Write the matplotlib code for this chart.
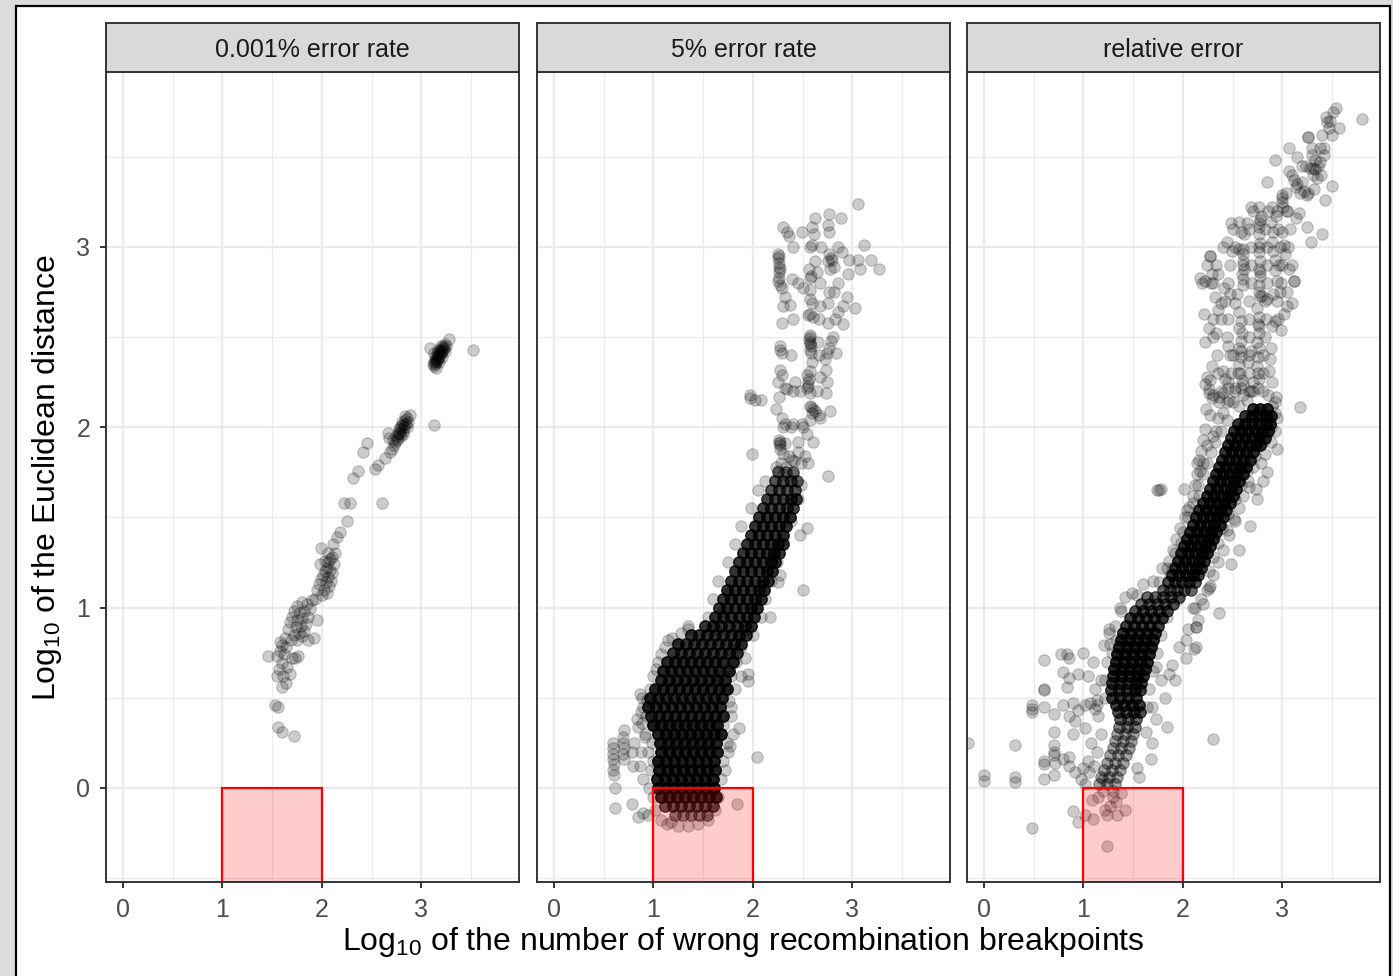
import numpy as np
import matplotlib.pyplot as plt
from matplotlib.patches import Rectangle

plt.rcParams['font.family'] = ['Liberation Sans', 'DejaVu Sans']
plt.rcParams['mathtext.fontset'] = 'custom'
plt.rcParams['mathtext.rm'] = 'Liberation Sans'

TITLES = ["0.001% error rate", "5% error rate", "relative error"]
X_TICKS = [0, 1, 2, 3]
Y_TICKS = [0, 1, 2, 3]
X_MINOR = [0.5, 1.5, 2.5, 3.5]
Y_MINOR = [-0.5, 0.5, 1.5, 2.5, 3.5]

# (x, y) single observations, log10 scale
P1_POINTS = [
    (3.12, 2.35), (3.13, 2.36), (3.13, 2.34), (3.14, 2.37), (3.14, 2.35), (3.15, 2.38),
    (3.15, 2.36), (3.16, 2.39), (3.16, 2.37), (3.17, 2.40), (3.17, 2.38), (3.18, 2.41),
    (3.18, 2.39), (3.19, 2.42), (3.19, 2.40), (3.20, 2.43), (3.20, 2.41), (3.21, 2.44),
    (3.21, 2.42), (3.22, 2.45), (3.22, 2.43), (3.23, 2.44), (3.24, 2.46), (3.25, 2.45),
    (3.14, 2.39), (3.17, 2.43), (3.20, 2.45), (3.15, 2.33), (3.18, 2.36), (3.21, 2.39),
    (3.09, 2.44), (3.28, 2.49), (3.52, 2.43), (3.13, 2.41), (3.24, 2.42), (3.16, 2.41),
    (2.88, 2.07), (2.85, 2.05), (2.83, 2.04), (2.82, 2.02), (2.80, 2.01), (2.79, 1.99),
    (2.81, 1.98), (2.78, 1.97), (2.77, 1.96), (2.76, 1.94), (2.75, 1.93), (2.84, 2.02),
    (2.82, 2.00), (2.80, 2.03), (2.78, 2.00), (2.76, 1.97), (2.74, 1.95), (2.73, 1.92),
    (2.72, 1.90), (2.70, 1.88), (2.68, 1.86), (2.66, 1.97), (2.67, 1.94), (2.79, 1.95),
    (2.83, 2.06), (2.86, 2.03), (2.81, 1.96), (2.77, 1.99), (2.85, 2.00), (2.71, 1.93),
    (3.13, 2.01), (2.63, 1.83), (2.56, 1.79), (2.53, 1.77), (2.45, 1.91), (2.41, 1.86),
    (2.36, 1.76), (2.31, 1.72), (2.22, 1.58), (2.28, 1.58), (2.60, 1.58), (2.25, 1.48),
    (2.18, 1.42), (2.15, 1.39), (2.11, 1.35), (1.99, 1.33),
    (2.13, 1.30), (2.10, 1.28), (2.08, 1.27), (2.06, 1.25), (2.12, 1.24), (2.05, 1.22),
    (2.08, 1.21), (2.03, 1.20), (2.10, 1.19), (2.01, 1.18), (2.06, 1.17), (1.99, 1.16),
    (2.04, 1.14), (2.07, 1.12), (1.97, 1.13), (2.02, 1.10), (2.05, 1.08), (1.95, 1.10),
    (2.00, 1.07), (1.93, 1.05), (2.09, 1.15), (1.98, 1.24), (2.03, 1.26), (2.06, 1.30),
    (1.90, 1.04), (1.85, 1.02), (1.80, 1.03), (1.75, 1.01), (1.88, 0.99), (1.82, 0.98),
    (1.77, 0.97), (1.72, 0.98), (1.86, 0.95), (1.80, 0.94), (1.75, 0.93), (1.70, 0.95),
    (1.84, 0.91), (1.79, 0.90), (1.74, 0.89), (1.68, 0.92), (1.82, 0.87), (1.77, 0.86),
    (1.72, 0.85), (1.66, 0.88), (1.80, 0.84), (1.75, 0.82), (1.69, 0.82), (1.63, 0.83),
    (1.60, 0.79), (1.64, 0.78), (1.58, 0.76), (1.86, 0.82), (1.92, 0.83), (1.55, 0.73),
    (1.62, 0.74), (1.70, 0.72), (1.73, 0.72), (1.76, 0.73), (1.60, 0.69), (1.65, 0.67),
    (1.57, 0.66), (1.68, 0.63), (1.61, 0.62), (1.55, 0.62), (1.64, 0.58), (1.60, 0.56),
    (1.46, 0.73), (1.58, 0.81), (1.95, 0.93),
    (1.53, 0.46), (1.56, 0.45), (1.56, 0.34), (1.60, 0.31), (1.72, 0.29),
]

P2_POINTS = [
    (3.06, 3.24), (2.62, 3.16), (2.76, 3.18), (2.88, 3.16), (2.30, 3.11), (2.34, 3.08),
    (2.36, 3.06), (2.49, 3.08), (2.59, 3.11), (2.61, 3.07), (2.75, 3.12), (2.76, 3.08),
    (2.57, 3.00), (2.59, 3.01), (3.12, 3.01),
    (2.25, 2.96), (2.25, 2.94), (2.26, 2.91), (2.27, 2.88), (2.26, 2.86), (2.26, 2.83),
    (2.25, 2.81), (2.29, 2.77), (2.27, 2.79), (2.26, 2.95), (2.26, 2.89),
    (2.39, 2.82), (2.50, 2.77), (2.56, 2.88), (2.57, 2.83), (2.58, 2.84), (2.62, 2.92),
    (2.64, 2.86), (2.76, 2.96), (2.78, 2.94), (2.75, 2.92), (2.81, 2.89), (2.77, 2.88),
    (2.79, 2.93), (2.89, 2.97), (2.97, 2.93), (3.06, 2.93), (3.19, 2.93), (3.08, 2.88),
    (3.27, 2.88), (2.96, 2.85),
    (2.57, 2.76), (2.76, 2.75), (2.81, 2.75), (2.32, 2.72), (2.30, 2.67), (2.37, 2.68),
    (2.57, 2.71), (2.59, 2.69), (2.67, 2.67), (2.75, 2.69), (2.94, 2.72), (2.90, 2.67),
    (3.03, 2.66), (2.85, 2.64), (2.55, 2.62), (2.60, 2.61), (2.57, 2.63), (2.29, 2.58),
    (2.75, 2.58), (2.90, 2.57),
    (2.57, 2.51), (2.56, 2.49), (2.57, 2.47), (2.58, 2.45), (2.57, 2.43), (2.58, 2.41),
    (2.57, 2.50), (2.57, 2.46), (2.27, 2.45), (2.29, 2.41), (2.27, 2.43), (2.65, 2.47),
    (2.80, 2.50), (2.78, 2.48), (2.74, 2.41), (2.72, 2.38), (2.83, 2.41), (2.76, 2.44),
    (2.59, 2.36), (2.57, 2.31), (2.27, 2.32), (2.29, 2.29), (2.25, 2.25), (2.73, 2.32),
    (2.67, 2.28), (2.74, 2.25), (2.42, 2.25), (2.55, 2.25), (2.54, 2.22), (2.57, 2.19),
    (2.32, 2.22), (2.34, 2.21), (2.26, 2.17), (2.47, 2.20), (2.73, 2.19), (2.56, 2.27),
    (2.54, 2.29), (2.55, 2.23),
    (1.97, 2.18), (1.97, 2.16), (2.02, 2.15), (2.08, 2.15),
    (2.57, 2.12), (2.60, 2.10), (2.66, 2.07), (2.77, 2.09), (2.67, 2.05), (2.57, 2.04),
    (2.59, 2.08), (2.62, 2.09), (2.58, 2.11),
    (2.23, 2.10), (2.29, 2.05), (2.32, 2.02), (2.30, 2.00), (2.40, 2.02), (2.49, 2.02),
    (2.26, 1.93), (2.27, 1.90), (2.27, 1.88), (2.32, 1.91), (2.26, 1.91), (2.45, 1.92),
    (2.54, 1.96), (2.60, 1.92), (1.99, 1.85), (2.27, 1.92),
    (2.45, 1.86), (2.52, 1.84), (2.41, 1.81), (2.48, 1.80), (2.55, 1.80), (2.39, 1.82),
    (2.75, 1.73), (2.23, 1.78), (2.25, 1.76), (2.30, 1.74), (2.22, 1.71), (2.29, 1.69),
    (2.37, 1.71), (2.40, 1.74), (2.28, 1.80), (2.33, 1.78), (2.36, 1.84), (2.30, 1.85),
    (2.50, 1.10), (2.54, 1.44), (2.47, 1.40), (2.27, 1.18), (2.25, 1.14), (2.17, 0.95),
    (1.95, 0.63), (1.95, 0.59), (1.86, 0.33), (1.77, 0.23), (2.04, 0.17), (1.84, -0.09),
    (0.59, 0.25), (0.59, 0.22), (0.59, 0.19), (0.59, 0.16), (0.60, 0.13), (0.59, 0.10),
    (0.60, 0.07), (0.69, 0.28), (0.69, 0.25), (0.70, 0.22), (0.69, 0.19), (0.70, 0.16),
    (0.70, 0.32), (0.61, 0.00), (0.61, -0.11), (0.78, -0.09), (0.90, -0.14), (0.84, -0.16),
    (0.95, -0.15), (0.79, 0.12), (0.78, 0.20), (0.80, 0.25),
    (1.19, 0.83), (1.24, 0.80), (1.35, 0.90), (1.35, 0.88), (0.89, 0.50), (0.94, 0.49),
    (0.83, 0.38), (0.84, 0.34), (0.89, 0.36), (0.86, 0.52), (0.88, 0.42), (0.92, 0.28),
    (0.90, 0.45), (0.92, 0.30), (0.95, 0.20), (0.98, 0.10), (0.96, 0.00), (1.00, -0.05),
    (0.88, 0.20), (0.90, 0.05), (0.86, 0.12), (1.02, -0.12), (1.08, -0.18), (1.14, -0.20),
    (1.75, 0.20), (1.72, 0.10), (1.70, 0.35), (1.78, 0.45), (1.82, 0.55), (1.88, 0.62),
    (1.92, 0.72), (2.00, 0.85), (2.08, 0.95), (2.12, 1.05), (2.18, 1.15), (2.24, 1.25),
    (2.30, 1.38), (2.38, 1.48), (2.45, 1.60), (2.48, 1.68), (1.55, 0.95), (1.60, 1.05),
    (1.65, 1.15), (1.75, 1.25), (1.82, 1.35), (1.88, 1.45), (1.98, 1.55), (2.05, 1.65),
    (2.12, 1.70), (1.12, 0.78), (1.05, 0.70), (1.00, 0.62), (1.78, 0.40), (1.80, 0.30),
    (1.76, 0.48), (1.74, 0.25), (1.70, 0.15), (1.68, 0.05), (1.65, -0.05), (1.72, 0.55),
    (1.78, 0.62), (1.83, 0.70), (1.88, 0.78), (1.95, 0.88), (2.02, 1.00), (2.10, 1.10),
    (1.62, -0.12), (1.55, -0.18), (1.45, -0.20), (1.35, -0.21), (1.25, -0.21), (1.18, -0.19),
    (0.93, 0.40), (0.97, 0.55), (1.03, 0.66), (1.08, 0.74), (1.15, 0.82), (1.28, 0.86),
    (0.99, 0.25), (1.00, 0.15), (1.01, 0.35), (1.66, 0.62), (1.74, 0.66), (1.79, 0.76),
    (1.86, 0.84), (1.62, 0.88), (1.70, 0.98), (1.76, 1.08), (2.15, 1.20), (2.20, 1.30),
]

# (y, count, [x ...]) rows through the dense parts
P2_BAND = [
    (3.00, 1, [2.40, 2.68, 2.85]),
    (2.80, 1, [2.45, 2.67, 2.85]),
    (2.60, 1, [2.40, 2.66, 2.82]),
    (2.40, 1, [2.38, 2.66]),
    (2.20, 1, [2.40, 2.64]),
    (2.00, 1, [2.38, 2.50]),
    (-0.15, 3, [1.22, 1.30, 1.38, 1.46, 1.54]),
    (-0.10, 5, [1.12, 1.20, 1.28, 1.36, 1.44, 1.52, 1.60]),
    (-0.05, 8, [1.08, 1.16, 1.24, 1.32, 1.40, 1.48, 1.56, 1.63]),
    (0.00, 9, [1.05, 1.13, 1.21, 1.29, 1.37, 1.45, 1.53, 1.61]),
    (0.05, 9, [1.04, 1.12, 1.20, 1.28, 1.36, 1.44, 1.52, 1.60]),
    (0.10, 9, [1.06, 1.14, 1.22, 1.30, 1.38, 1.46, 1.54, 1.62]),
    (0.15, 9, [1.05, 1.13, 1.21, 1.29, 1.37, 1.45, 1.53, 1.61]),
    (0.20, 9, [1.08, 1.16, 1.24, 1.32, 1.40, 1.48, 1.56, 1.64]),
    (0.25, 9, [1.07, 1.15, 1.23, 1.31, 1.39, 1.47, 1.55, 1.63]),
    (0.30, 9, [1.05, 1.13, 1.21, 1.29, 1.37, 1.45, 1.53, 1.61, 1.68]),
    (0.35, 9, [1.00, 1.08, 1.16, 1.24, 1.32, 1.40, 1.48, 1.56, 1.64]),
    (0.40, 8, [0.98, 1.06, 1.14, 1.22, 1.30, 1.38, 1.46, 1.54, 1.62, 1.70]),
    (0.45, 8, [0.95, 1.03, 1.11, 1.19, 1.27, 1.35, 1.43, 1.51, 1.59, 1.67]),
    (0.50, 8, [0.97, 1.05, 1.13, 1.21, 1.29, 1.37, 1.45, 1.53, 1.61, 1.69]),
    (0.55, 8, [1.02, 1.10, 1.18, 1.26, 1.34, 1.42, 1.50, 1.58, 1.66, 1.74]),
    (0.60, 8, [1.08, 1.16, 1.24, 1.32, 1.40, 1.48, 1.56, 1.64, 1.72]),
    (0.65, 8, [1.10, 1.18, 1.26, 1.34, 1.42, 1.50, 1.58, 1.66, 1.76]),
    (0.70, 8, [1.14, 1.22, 1.30, 1.38, 1.46, 1.54, 1.62, 1.70, 1.80]),
    (0.75, 7, [1.20, 1.28, 1.36, 1.44, 1.52, 1.60, 1.68, 1.76, 1.84]),
    (0.80, 7, [1.25, 1.33, 1.41, 1.49, 1.57, 1.65, 1.73, 1.81, 1.88]),
    (0.85, 7, [1.38, 1.46, 1.54, 1.62, 1.70, 1.78, 1.86, 1.93]),
    (0.90, 7, [1.52, 1.60, 1.68, 1.76, 1.84, 1.92, 1.98]),
    (0.95, 7, [1.62, 1.70, 1.78, 1.86, 1.94, 2.01]),
    (1.00, 7, [1.66, 1.74, 1.82, 1.90, 1.98, 2.04]),
    (1.05, 7, [1.70, 1.78, 1.86, 1.94, 2.02, 2.08]),
    (1.10, 7, [1.74, 1.82, 1.90, 1.98, 2.06, 2.11]),
    (1.15, 7, [1.78, 1.86, 1.94, 2.02, 2.10, 2.15]),
    (1.20, 7, [1.82, 1.90, 1.98, 2.06, 2.14, 2.19]),
    (1.25, 7, [1.86, 1.94, 2.02, 2.10, 2.18, 2.22]),
    (1.30, 7, [1.90, 1.98, 2.06, 2.14, 2.21, 2.26]),
    (1.35, 7, [1.94, 2.02, 2.10, 2.18, 2.25, 2.30]),
    (1.40, 7, [1.98, 2.06, 2.14, 2.22, 2.30]),
    (1.45, 7, [2.02, 2.10, 2.18, 2.26, 2.33]),
    (1.50, 7, [2.06, 2.14, 2.22, 2.30, 2.37]),
    (1.55, 6, [2.10, 2.18, 2.26, 2.34, 2.40]),
    (1.60, 6, [2.14, 2.22, 2.30, 2.38, 2.43]),
    (1.65, 5, [2.18, 2.26, 2.34, 2.42]),
    (1.70, 4, [2.22, 2.30, 2.38, 2.44]),
    (1.75, 3, [2.25, 2.33, 2.40]),
]

P3_POINTS = [
    (3.54, 3.77), (3.51, 3.75), (3.44, 3.72), (3.45, 3.69), (3.57, 3.66), (3.50, 3.62),
    (3.40, 3.62), (3.80, 3.71), (3.48, 3.70), (3.47, 3.66), (3.26, 3.61), (3.26, 3.61),
    (3.07, 3.55), (3.15, 3.50), (2.92, 3.48), (3.30, 3.51), (3.33, 3.48), (3.31, 3.44),
    (3.36, 3.45), (3.39, 3.40), (3.35, 3.38), (3.31, 3.40), (3.28, 3.44), (3.33, 3.43),
    (3.42, 3.51), (3.38, 3.47), (3.07, 3.42), (3.10, 3.40), (3.12, 3.37), (3.14, 3.33),
    (3.20, 3.36), (3.15, 3.35), (2.84, 3.36), (3.50, 3.34), (3.43, 3.26), (3.32, 3.32),
    (3.25, 3.29), (3.22, 3.31), (3.00, 3.29), (3.00, 3.27), (3.00, 3.25), (3.01, 3.22),
    (2.89, 3.22), (2.93, 3.17), (3.14, 3.16), (3.17, 3.19), (3.05, 3.20), (2.68, 3.22),
    (2.76, 3.22), (2.78, 3.17), (2.76, 3.13), (2.77, 3.15), (3.25, 3.11), (3.29, 3.03),
    (3.40, 3.07), (2.48, 3.13), (2.56, 3.14), (2.64, 3.13), (2.58, 3.08), (2.61, 3.07),
    (2.44, 3.03), (2.49, 2.98), (2.56, 2.99), (2.27, 2.95), (2.27, 2.95), (2.60, 2.99),
    (2.60, 2.96), (2.60, 2.92), (2.61, 2.88), (2.59, 2.85), (2.60, 2.82), (2.60, 2.79),
    (2.76, 3.11), (2.76, 3.07), (2.77, 3.02), (2.76, 2.97), (2.77, 2.92), (2.76, 2.88),
    (2.77, 2.84), (2.76, 2.79), (2.76, 2.75), (2.77, 2.73), (2.88, 3.14), (2.90, 3.08),
    (2.89, 3.03), (2.90, 2.98), (2.92, 2.93), (2.92, 2.87), (2.94, 2.81), (3.00, 3.08),
    (3.02, 3.01), (3.03, 2.96), (3.00, 2.90), (3.07, 2.88), (3.10, 2.90), (3.12, 2.81),
    (3.12, 2.81), (2.24, 2.90), (2.29, 2.85), (2.22, 2.81), (2.19, 2.80), (2.28, 2.80),
    (2.17, 2.83), (2.35, 2.85), (2.41, 2.77), (2.32, 2.72), (2.38, 2.69), (2.47, 2.74),
    (2.54, 2.74), (2.52, 2.69), (2.21, 2.63), (2.26, 2.55), (2.33, 2.52), (2.22, 2.47),
    (2.35, 2.65), (2.38, 2.60), (2.84, 2.71), (2.90, 2.74), (2.98, 2.75), (3.05, 2.75),
    (3.05, 2.67), (3.10, 2.69), (3.02, 2.63), (2.99, 2.54), (2.92, 2.59), (2.89, 2.56),
    (2.79, 2.73), (2.74, 2.66), (2.76, 2.61), (2.75, 2.57), (2.76, 2.52), (2.74, 2.47),
    (2.76, 2.44), (2.75, 2.39), (2.74, 2.34), (2.75, 2.30), (2.76, 2.27), (2.56, 2.64),
    (2.58, 2.59), (2.56, 2.55), (2.59, 2.52), (2.58, 2.48), (2.56, 2.44), (2.58, 2.39),
    (2.56, 2.35), (2.55, 2.30), (2.59, 2.26), (2.58, 2.22), (2.60, 2.18), (2.88, 2.44),
    (2.87, 2.38), (2.86, 2.31), (2.89, 2.25), (2.29, 2.34), (2.24, 2.28), (2.27, 2.26),
    (2.40, 2.31), (2.42, 2.27), (2.22, 2.24), (2.29, 2.16), (2.36, 2.14), (2.46, 2.15),
    (2.23, 2.10), (2.27, 2.07), (2.93, 2.17), (2.89, 2.12), (3.18, 2.11), (2.45, 2.45),
    (2.50, 2.40), (2.65, 2.36), (2.68, 2.42), (2.45, 2.22), (2.66, 2.20), (2.70, 2.25),
    (2.76, 3.00), (2.77, 2.86), (2.60, 2.90), (2.76, 2.56), (2.58, 2.42), (2.57, 2.30),
    (2.26, 2.21), (2.30, 2.18), (2.36, 2.17), (2.40, 2.19), (2.44, 2.14), (2.26, 2.19),
    (2.22, 1.99), (2.20, 1.93), (2.18, 1.87), (2.16, 1.82), (2.14, 1.80), (2.17, 1.76),
    (2.24, 1.90), (2.30, 1.95), (2.35, 2.05), (2.40, 2.08), (2.33, 1.98), (2.45, 2.25),
    (2.52, 2.22), (2.60, 2.24), (2.68, 2.20), (2.75, 2.22), (2.85, 2.18), (2.92, 2.14),
    (2.50, 2.14), (2.56, 2.12), (2.64, 2.15),
    (1.74, 1.65), (1.78, 1.66), (1.76, 1.65), (2.01, 1.66), (2.04, 1.54), (2.94, 1.88),
    (2.84, 1.75), (2.80, 1.70), (2.73, 1.66), (2.74, 1.60), (2.66, 1.67), (2.67, 1.45),
    (2.56, 1.32), (2.48, 1.24), (2.44, 1.43), (2.51, 1.49), (2.36, 0.97), (1.79, 1.22),
    (1.76, 1.14), (1.49, 1.08), (1.54, 1.07), (1.37, 1.00), (1.26, 0.88), (2.26, 1.11),
    (2.27, 1.12), (2.13, 0.89), (2.03, 0.82), (1.96, 0.78), (2.13, 0.78), (2.30, 0.27),
    (2.12, 1.68), (2.16, 1.62), (2.10, 1.58), (2.05, 1.50), (2.00, 1.42), (1.98, 1.36),
    (1.92, 1.30), (1.90, 1.22), (1.87, 1.18), (2.14, 1.74), (2.20, 1.80), (2.95, 2.05),
    (2.92, 1.98), (2.88, 1.92), (2.82, 1.85), (2.78, 1.80), (2.70, 1.78), (2.65, 1.70),
    (2.60, 1.62), (2.56, 1.55), (2.52, 1.48), (2.46, 1.40), (2.40, 1.32), (2.35, 1.25),
    (2.30, 1.18), (2.24, 1.10), (2.18, 1.05), (2.12, 1.00),
    (1.84, 1.22), (1.86, 1.26), (1.90, 1.32), (1.93, 1.38), (1.97, 1.44), (2.02, 1.50),
    (2.06, 1.56), (2.10, 1.62), (2.15, 1.68), (2.20, 1.74), (2.24, 1.80), (2.28, 1.86),
    (2.32, 1.92), (2.38, 1.98), (2.44, 2.04), (2.26, 1.20), (2.30, 1.28), (2.35, 1.36),
    (2.39, 1.44), (2.45, 1.52), (2.52, 1.60), (2.58, 1.68), (2.64, 1.76), (2.72, 1.84),
    (2.80, 1.92), (2.88, 2.00), (2.92, 2.08),
    (-0.16, 0.25), (0.00, 0.07), (0.00, 0.04), (0.31, 0.06), (0.31, 0.03), (0.31, 0.24),
    (0.48, 0.46), (0.48, 0.44), (0.48, 0.42), (0.60, 0.71), (0.60, 0.55), (0.60, 0.54),
    (0.60, 0.45), (0.70, 0.41), (0.79, 0.46), (0.90, 0.47), (0.77, 0.74), (0.83, 0.74),
    (0.85, 0.72), (1.00, 0.75), (0.79, 0.64), (0.85, 0.61), (0.83, 0.56), (0.95, 0.63),
    (0.70, 0.31), (0.70, 0.24), (0.70, 0.20), (0.70, 0.18), (0.60, 0.15), (0.60, 0.13),
    (0.71, 0.14), (0.60, 0.05), (0.70, 0.07), (0.79, 0.16), (0.85, 0.17), (0.85, 0.40),
    (0.92, 0.37), (0.90, 0.30), (1.02, 0.33), (0.85, 0.12), (0.92, 0.09), (1.00, 0.11),
    (1.06, 0.09), (1.11, 0.12), (0.95, 0.43), (1.02, 0.46), (1.07, 0.47), (1.14, 0.46),
    (1.12, 0.44), (1.09, -0.07), (1.22, -0.12), (1.24, -0.15), (1.34, -0.15), (1.42, -0.12),
    (1.10, -0.17), (0.90, -0.13), (0.95, -0.19), (1.02, -0.15), (1.24, -0.32), (0.48, -0.22),
    (1.15, -0.05), (1.30, -0.05), (1.38, -0.03), (1.27, -0.10), (1.33, -0.08),
    (2.13, 0.89), (2.11, 0.77), (2.03, 0.72), (1.89, 0.68), (1.92, 0.60), (1.86, 0.63),
    (1.73, 0.67), (1.78, 0.60), (1.69, 0.45), (1.73, 0.38), (1.84, 0.34), (1.68, 0.16),
    (1.56, 0.06), (1.54, 0.11), (1.69, 0.25), (1.63, 0.31), (1.95, 1.05), (2.10, 1.00),
    (2.15, 0.93), (2.05, 0.88), (2.20, 1.02), (1.82, 0.50),
    (1.26, 0.86), (1.33, 0.82), (1.21, 0.79), (1.29, 0.75), (1.18, 0.60), (1.14, 0.49),
    (1.05, 0.62), (1.10, 0.70), (1.12, 0.55), (1.15, 0.40), (1.18, 0.30), (1.08, 0.25),
    (1.14, 0.20), (1.05, 0.15), (1.20, 0.05), (1.02, 0.02), (0.98, 0.05), (1.42, 1.06),
    (1.60, 1.13), (1.70, 1.15),
    (1.22, 0.50), (1.22, 0.60), (1.24, 0.70), (1.27, 0.80), (1.32, 0.90), (1.38, 0.98),
    (1.64, 0.45), (1.66, 0.55), (1.70, 0.65), (1.74, 0.75), (1.78, 0.85), (1.84, 0.95),
    (1.90, 1.02),
]

P3_BAND = [
    (3.55, 1, [3.30, 3.38, 3.42]),
    (3.45, 1, [3.20, 3.24]),
    (3.30, 1, [3.04, 3.18, 3.26]),
    (3.20, 1, [2.70, 2.85, 2.95, 3.05]),
    (3.10, 1, [2.50, 2.66, 2.82, 2.96, 3.08]),
    (3.00, 1, [2.40, 2.52, 2.68, 2.84, 2.98, 3.06]),
    (2.90, 1, [2.33, 2.47, 2.68, 2.84, 2.97]),
    (2.80, 1, [2.30, 2.45, 2.68, 2.84, 2.99]),
    (2.70, 1, [2.42, 2.66, 2.82, 2.95]),
    (2.60, 1, [2.30, 2.45, 2.66, 2.83, 2.96]),
    (2.50, 1, [2.30, 2.44, 2.66, 2.82]),
    (2.40, 1, [2.34, 2.47, 2.66, 2.80]),
    (2.30, 1, [2.35, 2.48, 2.66, 2.80]),
    (2.20, 1, [2.38, 2.52, 2.70, 2.80]),
    (2.10, 8, [2.70, 2.77, 2.84]),
    (2.06, 7, [2.62, 2.69, 2.76, 2.83, 2.88]),
    (2.02, 7, [2.55, 2.62, 2.69, 2.76, 2.83, 2.87]),
    (1.98, 7, [2.51, 2.58, 2.65, 2.72, 2.79, 2.85]),
    (1.94, 7, [2.48, 2.55, 2.62, 2.69, 2.76, 2.82]),
    (1.90, 7, [2.45, 2.52, 2.59, 2.66, 2.73, 2.77]),
    (1.86, 7, [2.42, 2.49, 2.56, 2.63, 2.70]),
    (1.82, 7, [2.39, 2.46, 2.53, 2.60, 2.67]),
    (1.78, 7, [2.36, 2.43, 2.50, 2.57, 2.63]),
    (1.74, 7, [2.33, 2.40, 2.47, 2.54, 2.60]),
    (1.70, 7, [2.30, 2.37, 2.44, 2.51, 2.56]),
    (1.66, 7, [2.27, 2.34, 2.41, 2.48, 2.53]),
    (1.62, 7, [2.24, 2.31, 2.38, 2.45, 2.50]),
    (1.58, 7, [2.20, 2.27, 2.34, 2.41, 2.47]),
    (1.54, 7, [2.16, 2.23, 2.30, 2.37, 2.43]),
    (1.50, 7, [2.13, 2.20, 2.27, 2.34, 2.40]),
    (1.46, 7, [2.10, 2.17, 2.24, 2.31, 2.37]),
    (1.42, 7, [2.07, 2.14, 2.21, 2.28, 2.33]),
    (1.38, 7, [2.04, 2.11, 2.18, 2.25, 2.30]),
    (1.34, 7, [2.01, 2.08, 2.15, 2.22, 2.27]),
    (1.30, 7, [1.98, 2.05, 2.12, 2.19, 2.24]),
    (1.26, 7, [1.95, 2.02, 2.09, 2.16, 2.21]),
    (1.22, 6, [1.92, 1.99, 2.06, 2.13, 2.18]),
    (1.18, 6, [1.89, 1.96, 2.03, 2.10, 2.15]),
    (1.14, 5, [1.85, 1.92, 1.99, 2.06, 2.12]),
    (1.10, 4, [1.80, 1.87, 1.94, 2.01, 2.08]),
    (1.06, 4, [1.64, 1.72, 1.80, 1.88, 1.96]),
    (1.02, 4, [1.58, 1.66, 1.74, 1.82, 1.90]),
    (0.98, 5, [1.52, 1.60, 1.68, 1.76, 1.84]),
    (0.94, 6, [1.47, 1.55, 1.63, 1.71, 1.79]),
    (0.90, 6, [1.43, 1.51, 1.59, 1.67, 1.75]),
    (0.86, 7, [1.40, 1.48, 1.56, 1.64, 1.72]),
    (0.82, 8, [1.38, 1.46, 1.54, 1.62, 1.70]),
    (0.78, 8, [1.36, 1.44, 1.52, 1.60, 1.68]),
    (0.74, 8, [1.34, 1.42, 1.50, 1.58, 1.66]),
    (0.70, 8, [1.33, 1.41, 1.49, 1.57, 1.64]),
    (0.66, 8, [1.31, 1.39, 1.47, 1.55, 1.62]),
    (0.62, 7, [1.30, 1.38, 1.46, 1.54, 1.60]),
    (0.58, 6, [1.29, 1.37, 1.45, 1.53, 1.58]),
    (0.54, 6, [1.28, 1.36, 1.44, 1.52, 1.57]),
    (0.50, 6, [1.29, 1.37, 1.45, 1.53]),
    (0.46, 6, [1.33, 1.41, 1.49, 1.56]),
    (0.42, 5, [1.35, 1.43, 1.51, 1.57]),
    (0.38, 4, [1.37, 1.45, 1.53]),
    (0.34, 3, [1.36, 1.44, 1.52]),
    (0.30, 2, [1.34, 1.42, 1.50]),
    (0.26, 2, [1.32, 1.40, 1.48]),
    (0.22, 2, [1.30, 1.38, 1.46]),
    (0.18, 2, [1.27, 1.35, 1.43]),
    (0.14, 2, [1.24, 1.32, 1.40]),
    (0.10, 2, [1.21, 1.29, 1.37]),
    (0.06, 2, [1.18, 1.26, 1.34]),
    (0.02, 2, [1.16, 1.24, 1.32]),
    (-0.02, 1, [1.20, 1.30]),
]

PANELS = [(P1_POINTS, []), (P2_POINTS, P2_BAND), (P3_POINTS, P3_BAND)]


def collect(points, band):
    xs = [p[0] for p in points]
    ys = [p[1] for p in points]
    for y, n, row in band:
        for x in row:
            xs += [x] * n
            ys += [y] * n
    return np.array(xs), np.array(ys)


W, H = 1393, 976
PANEL_LEFT = [106, 537, 967]
PANEL_W = 413
PANEL_TOP, PANEL_BOTTOM, STRIP_TOP = 72, 882, 23
EDGE = '#333333'


def fx(px):
    return px / W


def fy(py):
    return 1 - py / H


fig = plt.figure(figsize=(W / 100, H / 100), dpi=100, facecolor='#dcdcdc')
frame = Rectangle((fx(16), fy(1000)), fx(1390) - fx(16), fy(6) - fy(1000),
                  transform=fig.transFigure, facecolor='white',
                  edgecolor='black', lw=1.6, zorder=-5)
fig.add_artist(frame)

for i, (title, (pts, band)) in enumerate(zip(TITLES, PANELS)):
    left = PANEL_LEFT[i]
    ax = fig.add_axes([fx(left), fy(PANEL_BOTTOM), PANEL_W / W,
                       (PANEL_BOTTOM - PANEL_TOP) / H])
    ax.set_xlim(-0.17, 3.98)
    ax.set_ylim(-0.522, 3.97)
    ax.set_xticks(X_TICKS)
    ax.set_yticks(Y_TICKS)
    ax.set_xticks(X_MINOR, minor=True)
    ax.set_yticks(Y_MINOR, minor=True)
    ax.grid(which='major', color='#ebebeb', lw=1.7)
    ax.grid(which='minor', color='#ebebeb', lw=0.9)
    ax.set_axisbelow(True)

    x, y = collect(pts, band)
    ax.scatter(x, y, s=68, facecolors=(0, 0, 0, 0.2),
               edgecolors=(0, 0, 0, 0.2), linewidths=0.8, zorder=2)

    ax.add_patch(Rectangle((1, -1), 1, 1, facecolor=(1, 0, 0, 0.2),
                           edgecolor='red', lw=1.6, zorder=3))

    for sp in ax.spines.values():
        sp.set_color(EDGE)
        sp.set_linewidth(1.4)
        sp.set_zorder(5)
    ax.tick_params(which='major', direction='out', length=4.3, width=1.4,
                   color=EDGE, labelsize=18, labelcolor='#4d4d4d', pad=7)
    ax.tick_params(which='minor', length=0)
    if i > 0:
        ax.tick_params(axis='y', which='both', left=False, labelleft=False)

    sax = fig.add_axes([fx(left), fy(PANEL_TOP), PANEL_W / W,
                        (PANEL_TOP - STRIP_TOP) / H])
    sax.set_facecolor('#d9d9d9')
    sax.set_xticks([])
    sax.set_yticks([])
    for sp in sax.spines.values():
        sp.set_color(EDGE)
        sp.set_linewidth(1.4)
    sax.text(0.5, 0.44, title, ha='center', va='center', fontsize=18,
             color='#1a1a1a', transform=sax.transAxes)

fig.text(fx(743), fy(942),
         r'Log$_{10}$ of the number of wrong recombination breakpoints',
         ha='center', va='center', fontsize=23)
fig.text(fx(47), fy(478), r'Log$_{10}$ of the Euclidean distance',
         ha='center', va='center', rotation=90, fontsize=23)

fig.savefig('out.png', dpi=100, facecolor=fig.get_facecolor())
